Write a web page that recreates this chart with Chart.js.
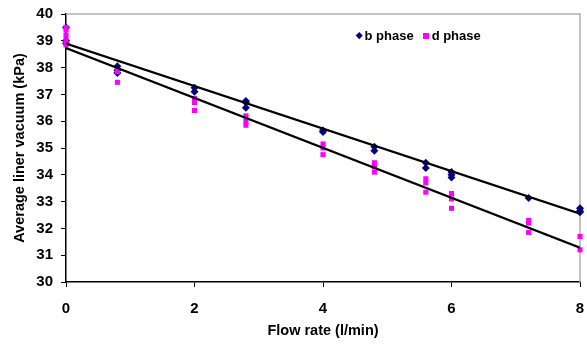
<!DOCTYPE html>
<html>
<head>
<meta charset="utf-8">
<script src="https://cdn.jsdelivr.net/npm/chart.js@4.4.1/dist/chart.umd.min.js"></script>
<style>
  html, body { margin: 0; padding: 0; background: #fff; }
  #wrap { position: relative; width: 587px; height: 345px; }
  #legend {
    position: absolute; left: 356px; top: 28px; line-height: 15px;
    font: bold 13px "Liberation Sans", Arial, sans-serif; color: #000;
    white-space: nowrap;
  }
  #legend span.k { display: inline-block; vertical-align: middle; margin-right: 3px; position: relative; top: -1px; }
  #legend .dia { width: 4.5px; height: 4.5px; background: #000080; transform: rotate(45deg); margin-left: 1px; }
  #legend .sq { width: 6px; height: 6px; background: #ff00ff; margin-left: 9px; }
</style>
</head>
<body>
<div id="wrap">
  <canvas id="c" width="587" height="345"></canvas>
  <div id="legend"><span class="k dia"></span>b phase<span class="k sq"></span>d phase</div>
</div>
<script>
// flow rate (l/min) -> liner vacuum readings (kPa)
const bX = [0, 0, 0, 0.8, 0.8, 0.8, 2, 2, 2.8, 2.8, 2.8, 4, 4, 4.8, 4.8, 5.6, 5.6, 6, 6, 6, 7.2, 8, 8, 8];
const bY = [39.5, 39.0, 38.9, 38.05, 37.9, 37.8, 37.25, 37.1, 36.75, 36.7, 36.5, 35.65, 35.6, 35.05, 34.9, 34.45, 34.25, 34.1, 34.0, 33.9, 33.13, 32.75, 32.65, 32.6];

const dX = [0, 0, 0, 0, 0, 0.8, 0.8, 0.8, 2, 2, 2, 2.8, 2.8, 2.8, 4, 4, 4, 4.8, 4.8, 4.8, 5.6, 5.6, 5.6, 6, 6, 6, 7.2, 7.2, 7.2, 8, 8];
const dY = [39.5, 39.4, 39.2, 39.0, 38.85, 37.9, 37.85, 37.45, 36.85, 36.7, 36.4, 36.2, 36.0, 35.85, 35.15, 35.0, 34.75, 34.45, 34.3, 34.1, 33.85, 33.7, 33.35, 33.3, 33.1, 32.75, 32.3, 32.2, 31.85, 31.7, 31.2];

// linear trend lines (ends)
const trendX = [0, 8];
const bTrend = [38.9, 32.55];
const dTrend = [38.73, 31.28];

const xTicks = [0, 2, 4, 6, 8];
const yMin = 30, yMax = 40;

const pts = (xs, ys) => xs.map((x, i) => ({ x, y: ys[i] }));

const plotBorder = {
  id: 'plotBorder',
  beforeDatasetsDraw(chart) {
    const { ctx, chartArea: a } = chart;
    ctx.save();
    ctx.strokeStyle = '#b0b0b0';
    ctx.lineWidth = 1.5;
    ctx.beginPath();
    ctx.moveTo(a.left, a.top); ctx.lineTo(a.right, a.top); ctx.lineTo(a.right, a.bottom);
    ctx.stroke();
    ctx.restore();
  }
};

const font = { family: '"Liberation Sans", Arial, sans-serif', weight: 'bold' };

new Chart(document.getElementById('c'), {
  type: 'scatter',
  data: {
    datasets: [
      { label: 'b phase', data: pts(bX, bY), pointStyle: 'rectRot', pointRadius: 4, clip: false,
        backgroundColor: '#000080', borderColor: '#000080', borderWidth: 0, order: 2 },
      { label: 'd phase', data: pts(dX, dY), pointStyle: 'rect', pointRadius: 3.6, clip: false,
        backgroundColor: '#ff00ff', borderColor: '#ff00ff', borderWidth: 0, order: 1 },
      { type: 'line', label: 'b trend', data: pts(trendX, bTrend), borderColor: '#000',
        borderWidth: 2.2, pointRadius: 0, fill: false, order: 0 },
      { type: 'line', label: 'd trend', data: pts(trendX, dTrend), borderColor: '#000',
        borderWidth: 2.2, pointRadius: 0, fill: false, order: 0 }
    ]
  },
  options: {
    responsive: false,
    animation: false,
    layout: { padding: { left: 10, top: 14, right: 7, bottom: 4 } },
    plugins: { legend: { display: false }, tooltip: { enabled: false } },
    scales: {
      x: {
        type: 'linear', min: 0, max: 8,
        afterBuildTicks: s => { s.ticks = xTicks.map(v => ({ value: v })); },
        afterFit: s => { s.height = 59; s.paddingRight = 0; s.paddingLeft = 0; },
        grid: { display: true, drawOnChartArea: false, tickLength: 5, color: '#000' },
        border: { color: '#000', width: 1.5 },
        ticks: { color: '#000', font: { ...font, size: 15 }, padding: 13 },
        title: { display: true, text: 'Flow rate (l/min)', color: '#000',
                 font: { ...font, size: 14.5 }, padding: { top: 1, bottom: 1 } }
      },
      y: {
        min: yMin, max: yMax,
        afterFit: s => { s.width = 56; s.paddingTop = 0; s.paddingBottom = 0; },
        grid: { display: true, drawOnChartArea: false, tickLength: 5, color: '#000' },
        border: { color: '#000', width: 1.5 },
        ticks: { stepSize: 1, color: '#000', font: { ...font, size: 15 }, padding: 8 },
        title: { display: true, text: 'Average liner vacuum (kPa)', color: '#000',
                 font: { ...font, size: 14.5 }, padding: { top: 1, bottom: 2 } }
      }
    }
  },
  plugins: [plotBorder]
});
</script>
</body>
</html>
